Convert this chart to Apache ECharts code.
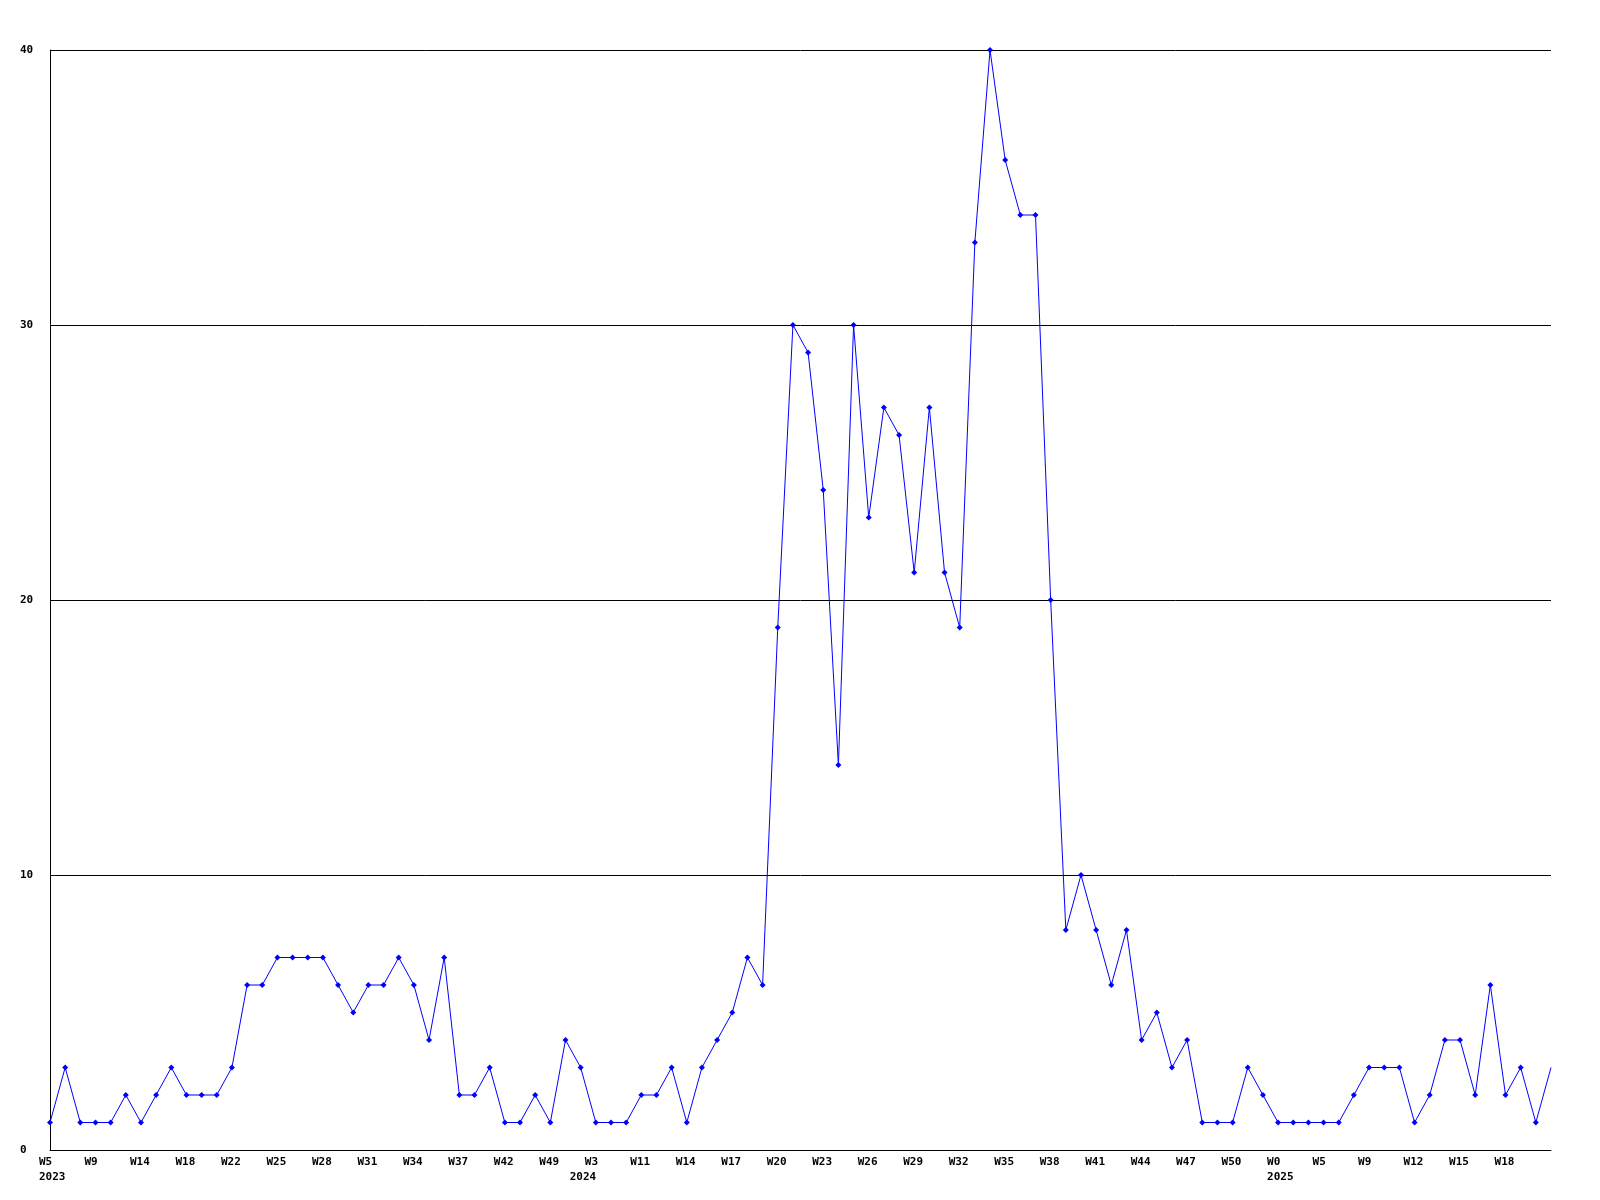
<!DOCTYPE html>
<html>
<head>
<meta charset="utf-8">
<script src="https://cdn.jsdelivr.net/npm/echarts@6/dist/echarts.min.js"></script>
<style>
html,body{margin:0;padding:0;background:#fff;}
#chart{width:1600px;height:1200px;}
</style>
</head>
<body>
<div id="chart"></div>
<script>
// Weekly counts (100 weekly points)
const values = [
  1, 3, 1, 1, 1, 2, 1, 2, 3, 2,
  2, 2, 3, 6, 6, 7, 7, 7, 7, 6,
  5, 6, 6, 7, 6, 4, 7, 2, 2, 3,
  1, 1, 2, 1, 4, 3, 1, 1, 1, 2,
  2, 3, 1, 3, 4, 5, 7, 6, 19, 30,
  29, 24, 14, 30, 23, 27, 26, 21, 27, 21,
  19, 33, 40, 36, 34, 34, 20, 8, 10, 8,
  6, 8, 4, 5, 3, 4, 1, 1, 1, 3,
  2, 1, 1, 1, 1, 1, 2, 3, 3, 3,
  1, 2, 4, 4, 2, 6, 2, 3, 1, 3
];
// Tick labels shown on every 3rd point
const tickLabels = [
  'W5','W9','W14','W18','W22','W25','W28','W31','W34','W37','W42','W49',
  'W3','W11','W14','W17','W20','W23','W26','W29','W32','W35','W38','W41',
  'W44','W47','W50','W0','W5','W9','W12','W15','W18'
];
// Year labels: point index -> year
const yearIndex = [0, 35, 81];
const yearText = ['2023', '2024', '2025'];
const yTicks = [0, 10, 20, 30, 40];

const categories = values.map((v, i) => String(i));
const seriesData = values.map((v, i) => i === values.length - 1
  ? { value: v, symbol: 'none' } : v);

const font = { fontFamily: 'DejaVu Sans Mono', fontWeight: 'bold', fontSize: 11, color: '#000' };

const chart = echarts.init(document.getElementById('chart'), null, { renderer: 'canvas' });
chart.setOption({
  animation: false,
  backgroundColor: '#ffffff',
  grid: { left: 50, right: 49, top: 50, bottom: 50, containLabel: false },
  xAxis: [
    {
      type: 'category',
      data: categories,
      boundaryGap: false,
      position: 'bottom',
      axisLine: { show: true, lineStyle: { color: '#000', width: 1 } },
      axisTick: { show: false },
      splitLine: { show: false },
      axisLabel: Object.assign({}, font, {
        interval: 2,
        align: 'left',
        margin: 5,
        lineHeight: 15,
        padding: [0, 0, 0, -11],
        formatter: (val, idx) => tickLabels[Math.round(idx / 3)] || ''
      })
    },
    {
      type: 'category',
      data: categories,
      boundaryGap: false,
      position: 'bottom',
      axisLine: { show: false },
      axisTick: { show: false },
      splitLine: { show: false },
      axisLabel: Object.assign({}, font, {
        interval: (idx) => yearIndex.indexOf(idx) >= 0,
        align: 'left',
        margin: 20,
        lineHeight: 15,
        padding: [0, 0, 0, -11],
        formatter: (val, idx) => {
          const k = yearIndex.indexOf(Number(val));
          return k >= 0 ? yearText[k] : '';
        }
      })
    }
  ],
  yAxis: {
    type: 'value',
    min: yTicks[0],
    max: yTicks[yTicks.length - 1],
    interval: 10,
    axisLine: { show: true, lineStyle: { color: '#000', width: 1 } },
    axisTick: { show: false },
    splitLine: { show: true, lineStyle: { color: '#000', width: 1 } },
    axisLabel: Object.assign({}, font, { align: 'left', margin: 30 })
  },
  series: [{
    type: 'line',
    xAxisIndex: 0,
    data: seriesData,
    symbol: 'diamond',
    symbolSize: 6,
    showAllSymbol: true,
    lineStyle: { color: '#0000ff', width: 1 },
    itemStyle: { color: '#0000ff' },
    emphasis: { disabled: true }
  }]
});
</script>
</body>
</html>
